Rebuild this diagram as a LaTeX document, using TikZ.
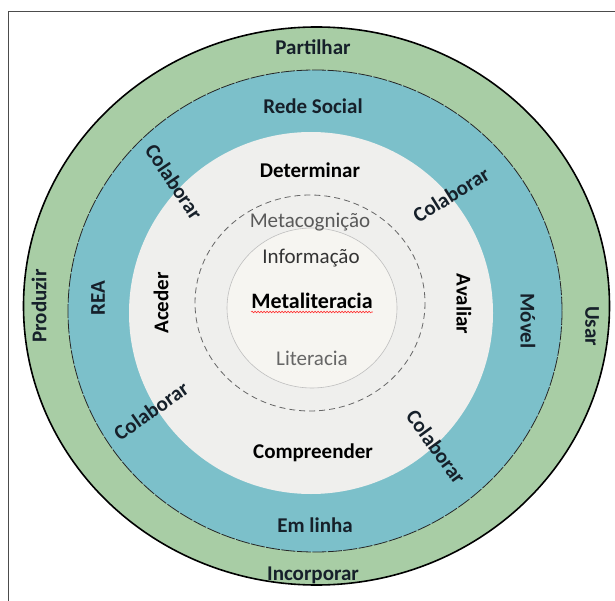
\documentclass[tikz,border=0pt]{standalone}
\usepackage{fontspec}
\setmainfont{Carlito}
\usetikzlibrary{decorations.pathmorphing}

\definecolor{ringgreen}{RGB}{168,205,165}
\definecolor{ringblue}{RGB}{124,192,202}
\definecolor{coregray}{RGB}{239,239,237}
\definecolor{innerwhite}{RGB}{246,245,241}
\definecolor{labeltext}{RGB}{22,32,42}

\tikzset{
    lbl/.style={font=\fontsize{21}{24}\selectfont\bfseries, text=labeltext, inner sep=0pt},
    thinlbl/.style={font=\fontsize{21}{24}\selectfont, inner sep=0pt},
}

\begin{document}
\begin{tikzpicture}[x=1pt, y=-1pt]
    \useasboundingbox (0,0) rectangle (615,601);
    \clip (0,0) rectangle (615,601);
    \fill[white] (0,0) rectangle (615,601);

    % Frame around the figure
    \draw[black!70, line width=1pt] (8,12) rectangle (640,640);

    % Draw the rings from the outside in
    \filldraw[fill=ringgreen, draw=black, line width=1.6pt] (316.5,306) ellipse (293 and 279);
    \filldraw[fill=ringblue, draw=black!85, line width=0.8pt, dash pattern=on 14pt off 1.5pt] (315,311) ellipse (247 and 241);
    \fill[coregray] (311,313) ellipse (182 and 181);
    \draw[black!60, line width=0.8pt, dash pattern=on 6pt off 4pt] (310,303) ellipse (115 and 108);
    \filldraw[fill=innerwhite, draw=black!25, line width=0.6pt] (312,308) ellipse (85 and 80);

    % Outer ring
    \node[lbl] (partilhar) at (313,47) {Partilhar};
    \node[lbl, rotate=90] (produzir) at (39,306) {Produzir};
    \node[lbl, rotate=-90] (usar) at (592,326) {Usar};
    \node[lbl] (incorporar) at (313,575) {Incorporar};

    % Middle ring
    \node[lbl] (redesocial) at (313,106) {Rede Social};
    \node[lbl, rotate=90] (rea) at (98,298) {REA};
    \node[lbl, rotate=-90] (movel) at (528,321) {Móvel};
    \node[lbl] (emlinha) at (315,525) {Em linha};

    % Colaborar between the rings
    \node[lbl, rotate=-56] (colabUL) at (174,182) {Colaborar};
    \node[lbl, rotate=32] (colabUR) at (451,195) {Colaborar};
    \node[lbl, rotate=35] (colabLL) at (151,411) {Colaborar};
    \node[lbl, rotate=-54] (colabLR) at (436,447) {Colaborar};

    % Core
    \node[lbl, text=black] (determinar) at (310,170) {Determinar};
    \node[lbl, text=black, rotate=90] (aceder) at (161,303) {Aceder};
    \node[lbl, text=black, rotate=-90] (avaliar) at (464,304) {Avaliar};
    \node[lbl, text=black] (compreender) at (313,453) {Compreender};

    % Centre
    \node[thinlbl, text=black!65] (metacog) at (310,222) {Metacognição};
    \node[thinlbl, text=black!80] (informacao) at (311,258) {Informação};
    \node[lbl, text=black, font=\fontsize{22}{24}\selectfont\bfseries] (metalit) at (312,301) {Metaliteracia};
    \node[thinlbl, text=black!60] (literacia) at (312,358) {Literacia};

    % Wavy underline under the centre word
    \draw[red!80, line width=0.6pt, decorate, decoration={snake, amplitude=0.8pt, segment length=3pt}]
        ([yshift=-3pt]metalit.south west) -- ([yshift=-3pt]metalit.south east);
\end{tikzpicture}
\end{document}
